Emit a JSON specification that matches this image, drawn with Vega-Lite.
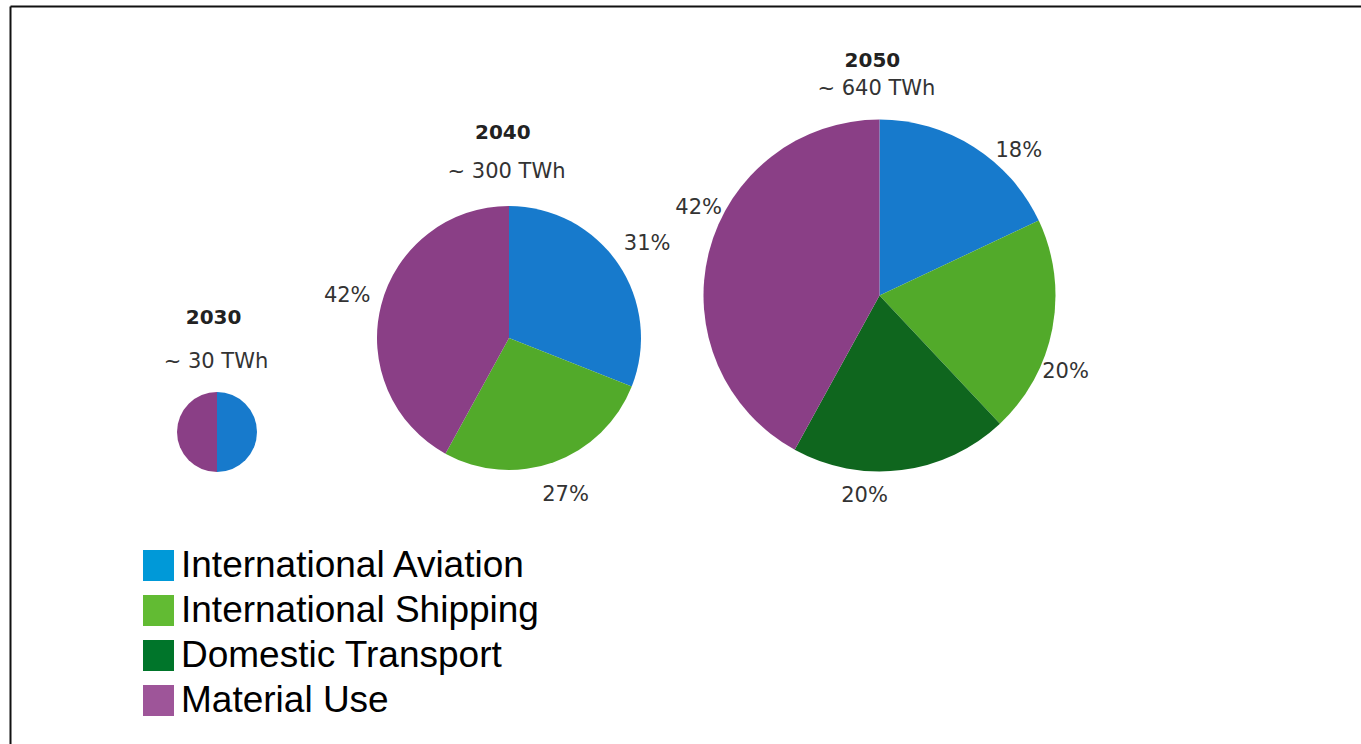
{
  "$schema": "https://vega.github.io/schema/vega-lite/v6.json",
  "width": 1351,
  "height": 738,
  "autosize": {"type": "none"},
  "padding": {"left": 10, "top": 6, "right": 0, "bottom": 0},
  "background": "white",
  "config": {
    "view": {"stroke": null},
    "axis": {"domainColor": "#111111", "domainWidth": 2, "labels": false, "ticks": false, "grid": false, "title": null}
  },
  "data": {
    "values": [
      {"year": 2030, "category": "International Aviation", "k": 1, "pct": 0.5, "twh": 30, "total": "~ 30 TWh"},
      {"year": 2030, "category": "Material Use", "k": 4, "pct": 0.5, "twh": 30, "total": "~ 30 TWh"},
      {"year": 2040, "category": "International Aviation", "k": 1, "pct": 0.31, "twh": 300, "total": "~ 300 TWh"},
      {"year": 2040, "category": "International Shipping", "k": 2, "pct": 0.27, "twh": 300, "total": "~ 300 TWh"},
      {"year": 2040, "category": "Material Use", "k": 4, "pct": 0.42, "twh": 300, "total": "~ 300 TWh"},
      {"year": 2050, "category": "International Aviation", "k": 1, "pct": 0.18, "twh": 640, "total": "~ 640 TWh"},
      {"year": 2050, "category": "International Shipping", "k": 2, "pct": 0.2, "twh": 640, "total": "~ 640 TWh"},
      {"year": 2050, "category": "Domestic Transport", "k": 3, "pct": 0.2, "twh": 640, "total": "~ 640 TWh"},
      {"year": 2050, "category": "Material Use", "k": 4, "pct": 0.42, "twh": 640, "total": "~ 640 TWh"}
    ]
  },
  "resolve": {"scale": {"radius": "independent"}},
  "encoding": {
    "x": {
      "field": "year", "type": "quantitative",
      "scale": {"domain": [2020, 2030, 2040, 2050, 2060], "range": [0, 207, 499, 869.5, 1351], "zero": false, "nice": false},
      "axis": {"orient": "top"}
    },
    "y": {
      "field": "year", "type": "quantitative",
      "scale": {"domain": [2020, 2030, 2040, 2050, 2060], "range": [0, 426, 332, 289.5, 738], "zero": false, "nice": false},
      "axis": {"orient": "left"}
    }
  },
  "layer": [
    {
      "mark": {"type": "arc", "strokeWidth": 0},
      "encoding": {
        "theta": {"field": "pct", "type": "quantitative", "stack": true},
        "radius": {"field": "twh", "type": "quantitative", "scale": {"type": "linear", "domain": [0, 30, 300, 640], "range": [0, 40, 132, 176], "zero": true, "nice": false}},
        "order": {"field": "k", "type": "quantitative"},
        "color": {
          "field": "category", "type": "nominal", "legend": null,
          "scale": {"domain": ["Material Use", "Domestic Transport", "International Shipping", "International Aviation"], "range": ["#8A3F86", "#0F661E", "#52AA2A", "#177ACC"]}
        }
      }
    },
    {
      "transform": [{"filter": "datum.year == 2040"}],
      "mark": {"type": "text", "radiusOffset": 35, "font": "DejaVu Sans", "fontSize": 21, "color": "#333333", "align": "center", "baseline": "middle"},
      "encoding": {
        "theta": {"field": "pct", "type": "quantitative", "stack": true},
        "radius": {"field": "twh", "type": "quantitative", "scale": {"type": "linear", "domain": [0, 30, 300, 640], "range": [0, 40, 132, 176], "zero": true, "nice": false}},
        "order": {"field": "k", "type": "quantitative"},
        "text": {"field": "pct", "type": "quantitative", "format": ".0%"}
      }
    },
    {
      "transform": [{"filter": "datum.year == 2050"}],
      "mark": {"type": "text", "radiusOffset": 25, "thetaOffset": 0.2, "font": "DejaVu Sans", "fontSize": 21, "color": "#333333", "align": "center", "baseline": "middle"},
      "encoding": {
        "theta": {"field": "pct", "type": "quantitative", "stack": true},
        "radius": {"field": "twh", "type": "quantitative", "scale": {"type": "linear", "domain": [0, 30, 300, 640], "range": [0, 40, 132, 176], "zero": true, "nice": false}},
        "order": {"field": "k", "type": "quantitative"},
        "text": {"field": "pct", "type": "quantitative", "format": ".0%"}
      }
    },
    {
      "transform": [{"filter": "datum.k == 1"}],
      "mark": {"type": "text", "theta": -0.03, "font": "DejaVu Sans", "fontSize": 20, "fontWeight": "bold", "color": "#222222", "align": "center", "baseline": "middle"},
      "encoding": {
        "radius": {"field": "twh", "type": "quantitative", "scale": {"type": "linear", "domain": [0, 30, 300, 640], "range": [0, 114.5, 205.5, 235], "zero": true, "nice": false}},
        "text": {"field": "year", "type": "nominal"}
      }
    },
    {
      "transform": [{"filter": "datum.k == 1"}],
      "mark": {"type": "text", "theta": -0.015, "font": "DejaVu Sans", "fontSize": 21, "color": "#333333", "align": "center", "baseline": "middle"},
      "encoding": {
        "radius": {"field": "twh", "type": "quantitative", "scale": {"type": "linear", "domain": [0, 30, 300, 640], "range": [0, 70, 166.5, 206.5], "zero": true, "nice": false}},
        "text": {"field": "total", "type": "nominal"}
      }
    },
    {
      "mark": {"type": "square", "size": 0, "opacity": 1},
      "encoding": {
        "fill": {
          "field": "category", "type": "nominal",
          "scale": {"domain": ["International Aviation", "International Shipping", "Domestic Transport", "Material Use"], "range": ["#0099D8", "#62BB33", "#00752A", "#9E5599"]},
          "legend": {
            "orient": "none", "legendX": 130, "legendY": 541, "title": null,
            "symbolType": "square", "symbolSize": 961, "symbolStrokeWidth": 0, "symbolOpacity": 1,
            "labelFont": "Liberation Sans", "labelFontSize": 37, "labelColor": "#000000",
            "labelOffset": 4, "rowPadding": 7, "labelLimit": 600
          }
        }
      }
    }
  ]
}
